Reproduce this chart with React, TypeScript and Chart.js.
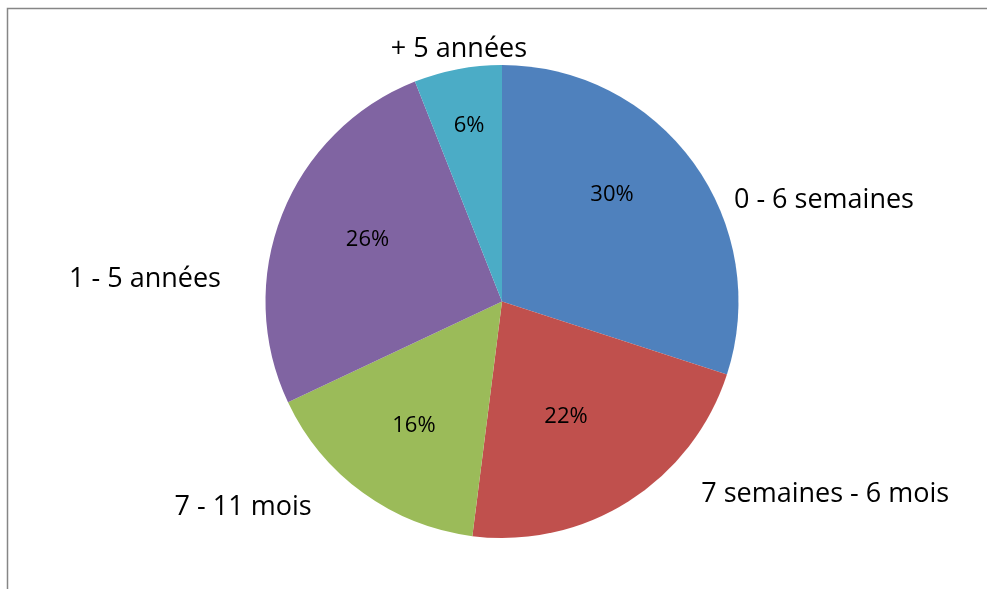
import React, { useEffect, useRef } from "react";
import { Chart, registerables } from "chart.js";

Chart.register(...registerables);

const categories = ["0 - 6 semaines", "7 semaines - 6 mois", "7 - 11 mois", "1 - 5 années", "+ 5 années"];
const shares = [30, 22, 16, 26, 6];
const sliceColors = ["#4F81BD", "#C0504D", "#9BBB59", "#8064A2", "#4BACC6"];

// label layout relative to each slice (angle shift in degrees, radius as a factor of the pie radius)
const outerLabelShift = [18.3, -27.1, 15.8, -17.7, 1.2];
const outerLabelRadius = [1.429, 1.586, 1.393, 1.513, 1.091];
const innerLabelShift = [-8.5, 3.0, -0.3, 3.5, 0.3];
const innerLabelRadius = [0.652, 0.551, 0.638, 0.628, 0.763];

const FONT = "'Open Sans', 'DejaVu Sans', sans-serif";

const labelPlugin = {
  id: "pieLabels",
  beforeDraw(chart: any) {
    const ctx = chart.ctx;
    ctx.save();
    ctx.fillStyle = "#ffffff";
    ctx.fillRect(0, 0, chart.width, chart.height);
    ctx.strokeStyle = "#868686";
    ctx.lineWidth = 1.5;
    ctx.beginPath();
    ctx.moveTo(7.5, chart.height);
    ctx.lineTo(7.5, 8.5);
    ctx.lineTo(chart.width, 8.5);
    ctx.stroke();
    ctx.restore();
  },
  afterDatasetsDraw(chart: any) {
    const ctx = chart.ctx;
    const meta = chart.getDatasetMeta(0);
    const total = shares.reduce((a, b) => a + b, 0);
    ctx.save();
    ctx.fillStyle = "#000000";
    ctx.textAlign = "center";
    ctx.textBaseline = "middle";
    meta.data.forEach((arc: any, i: number) => {
      const p = arc.getProps(["x", "y", "startAngle", "endAngle", "outerRadius"], true);
      const mid = (p.startAngle + p.endAngle) / 2;
      // percentage inside
      const a1 = mid + (innerLabelShift[i] * Math.PI) / 180;
      const r1 = p.outerRadius * innerLabelRadius[i];
      ctx.font = `22px ${FONT}`;
      ctx.fillText(
        `${Math.round((shares[i] / total) * 100)}%`,
        p.x + r1 * Math.cos(a1),
        p.y + r1 * Math.sin(a1) + 1.5
      );
      // category outside
      const a2 = mid + (outerLabelShift[i] * Math.PI) / 180;
      const r2 = p.outerRadius * outerLabelRadius[i];
      ctx.font = `27px ${FONT}`;
      ctx.fillText(categories[i], p.x + r2 * Math.cos(a2), p.y + r2 * Math.sin(a2) + 2);
    });
    ctx.restore();
  },
};

export default function App() {
  const ref = useRef<HTMLCanvasElement>(null);
  useEffect(() => {
    if (!ref.current) return;
    const chart = new Chart(ref.current, {
      type: "pie",
      data: {
        labels: categories,
        datasets: [
          {
            data: shares,
            backgroundColor: sliceColors,
            borderWidth: 0,
          },
        ],
      },
      options: {
        animation: false,
        responsive: false,
        layout: { padding: { top: 65, bottom: 51, left: 265.5, right: 248.5 } },
        plugins: {
          legend: { display: false },
          tooltip: { enabled: false },
        },
      },
      plugins: [labelPlugin],
    });
    return () => chart.destroy();
  }, []);
  return (
    <div style={{ position: "absolute", left: 0, top: 0, width: 987, height: 589 }}>
      <canvas ref={ref} width={987} height={589} style={{ width: 987, height: 589, display: "block" }} />
    </div>
  );
}
